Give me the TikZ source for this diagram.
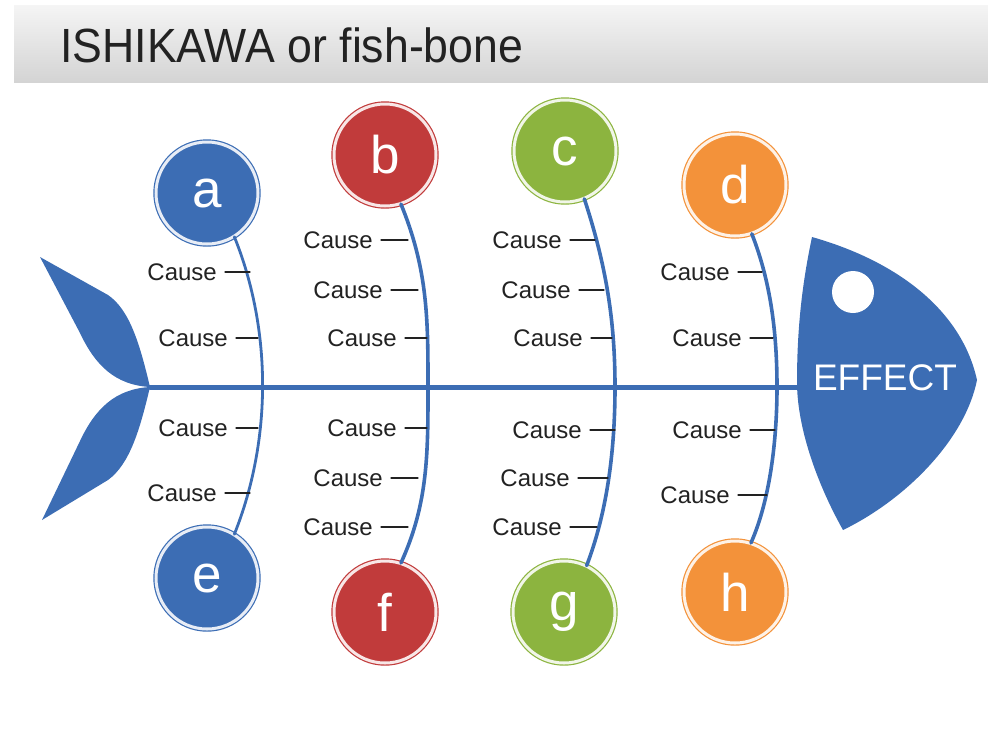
\documentclass[tikz,border=0pt]{standalone}
\usepackage{fontspec}
\setmainfont{Liberation Sans}
\usetikzlibrary{positioning}
\definecolor{fishblue}{HTML}{3C6DB4}
\definecolor{causered}{HTML}{C13B3B}
\definecolor{causegreen}{HTML}{8CB43F}
\definecolor{causeorange}{HTML}{F3923A}
\definecolor{causeink}{HTML}{222222}

\begin{document}
\begin{tikzpicture}[x=1pt, y=-1pt, line cap=round,
    every node/.style={text=causeink, font=\fontsize{24}{24}\selectfont, inner sep=0pt},
    bubble/.style={circle, minimum size=102pt, fill=#1, draw=#1, line width=1.2pt,
                   double=white!88!#1, double distance=3pt, text=white,
                   font=\fontsize{53}{53}\selectfont},
    bone/.style={fishblue, line width=3.6pt},
    tick/.style={causeink, line width=1.1pt}]

  \useasboundingbox (0,0) rectangle (988,732);

  %% title band
  \shade[top color=white!96!black, bottom color=white!83!black] (14,5) rectangle (988,82);
  \node[anchor=base west, font=\fontsize{48}{48}\selectfont, xscale=0.93] (title) at (60,62) {ISHIKAWA or fish-bone};

  %% tail, spine and head
  \coordinate (tailjoint) at (150,387);
  \coordinate (headjoint) at (805,387);
  \fill[fishblue] (tailjoint) .. controls (140,345) and (130,310) .. (108,295)
    -- (40,257) -- (80,333) .. controls (95,365) and (115,385) .. cycle;
  \fill[fishblue] (tailjoint) .. controls (140,429) and (130,464) .. (108,480)
    -- (42,520) -- (80,441) .. controls (95,409) and (115,389) .. cycle;
  \draw[fishblue, line width=5pt] (tailjoint) -- (headjoint);
  \fill[fishblue] (812,237) .. controls (900,262) and (962,312) .. (977,380)
    .. controls (965,440) and (905,500) .. (843,530)
    .. controls (815,480) and (797,425) .. (797,382)
    .. controls (797,320) and (804,275) .. (812,237) -- cycle;
  \fill[white] (853,292) circle (21);
  \node[text=white, font=\fontsize{37}{37}\selectfont] (effect) at (885,378) {EFFECT};

  %% bubbles
  \node[bubble=fishblue]    (a) at (207,193) {a};
  \node[bubble=causered]    (b) at (385,155) {b};
  \node[bubble=causegreen]  (c) at (565,151) {c};
  \node[bubble=causeorange] (d) at (735,185) {d};
  \node[bubble=fishblue]    (e) at (207,578) {e};
  \node[bubble=causered]    (f) at (385,612) {f};
  \node[bubble=causegreen]  (g) at (564,612) {g};
  \node[bubble=causeorange] (h) at (735,592) {h};

  %% bones
  \draw[bone, line width=2.8pt] (a.-58) .. controls (272,330) and (272,440) .. (e.58);
  \draw[bone] (b.-72) .. controls (428,270) and (428,320) .. (428,387)
    .. controls (428,454) and (428,504) .. (f.72);
  \draw[bone] (c.-68) .. controls (606,265) and (615,320) .. (615,387)
    .. controls (615,455) and (606,515) .. (g.64);
  \draw[bone] (d.-71) .. controls (770,280) and (777,330) .. (777,387)
    .. controls (777,440) and (770,500) .. (h.72);

  %% causes: name/text right/y/tick end
  \foreach \n/\x/\y/\e in {a1/217/272/250, a2/228/338/258, a3/228/428/258, a4/217/493/250,
      b1/373/240/408, b2/383/290/418, b3/397/338/427, b4/397/428/427, b5/383/478/418, b6/373/527/408,
      c1/562/240/595, c2/571/290/604, c3/583/338/612, c4/582/430/615, c5/570/478/608, c6/562/527/597,
      d1/730/272/762, d2/742/338/773, d3/742/430/775, d4/730/495/767} {
    \node[anchor=east] (cause\n) at (\x,\y) {Cause};
    \draw[tick] (cause\n.east) ++(8,0) -- (\e,\y);
  }

\end{tikzpicture}
\end{document}
